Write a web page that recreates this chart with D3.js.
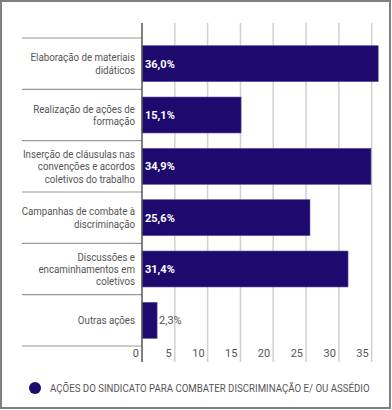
<!DOCTYPE html>
<html><head><meta charset="utf-8">
<script src="https://cdn.jsdelivr.net/npm/d3@7"></script>
<style>body{margin:0;background:#fff}svg{display:block}</style>
</head><body><svg id="c" width="392" height="410"></svg>
<script>
const categories = [
  ["Elaboração de materiais", "didáticos"],
  ["Realização de ações de", "formação"],
  ["Inserção de cláusulas nas", "convenções e acordos", "coletivos do trabalho"],
  ["Campanhas de combate à", "discriminação"],
  ["Discussões e", "encaminhamentos em", "coletivos"],
  ["Outras ações"]
];
const values = [36.0, 15.1, 34.9, 25.6, 31.4, 2.3];
const valueLabels = ["36,0%", "15,1%", "34,9%", "25,6%", "31,4%", "2,3%"];
const ticks = [0, 5, 10, 15, 20, 25, 30, 35];
const seriesName = "AÇÕES DO SINDICATO PARA COMBATER DISCRIMINAÇÃO E/ OU ASSÉDIO";

const svg = d3.select("#c");
const font = "Roboto, 'Noto Sans', sans-serif";
const barColor = "#1e0a6e";
const textColor = "#555";

svg.append("rect").attr("x",1).attr("y",1).attr("width",389).attr("height",407)
  .attr("fill","#fff").attr("stroke","#808080").attr("stroke-width",2);

const x = d3.scaleLinear().domain([0, 36]).range([142, 378.2]);
const y = d3.scaleBand().domain(d3.range(categories.length)).range([38, 346]).paddingInner(0.3).paddingOuter(0.15);
const gTop = 23, gBottom = 362;

// gridlines
svg.append("g").selectAll("line").data(ticks.filter(t=>t>0)).join("line")
  .attr("x1", d=>x(d)).attr("x2", d=>x(d)).attr("y1", gTop).attr("y2", gBottom)
  .attr("stroke","#d0d0d0").attr("stroke-width",1.5);

// tick labels
svg.append("g").selectAll("text").data(ticks).join("text")
  .attr("x", d=>x(d)-3).attr("y", 357).attr("text-anchor","end")
  .attr("font-family",font).attr("font-size",11).attr("fill",textColor).text(d=>d);

// category separators
const seps = d3.range(categories.length+1).map(i => 38 + i*(308/categories.length));
svg.append("g").selectAll("line").data(seps).join("line")
  .attr("x1",22).attr("x2",142).attr("y1",d=>d).attr("y2",d=>d)
  .attr("stroke","#999").attr("stroke-width",1.2);

// bars
svg.append("g").selectAll("rect").data(values).join("rect")
  .attr("x", x(0)).attr("y",(d,i)=>y(i)).attr("width", d=>x(d)-x(0)).attr("height", y.bandwidth())
  .attr("fill", barColor).attr("stroke","#5a4aa0").attr("stroke-width",0.6);

// axis line
svg.append("line").attr("x1",142).attr("x2",142).attr("y1",gTop).attr("y2",gBottom)
  .attr("stroke","#555").attr("stroke-width",1.5);

// value labels
svg.append("g").selectAll("text").data(values).join("text")
  .attr("x",(d,i)=> (x(d)-x(0) > 30) ? x(0)+3 : x(d)+2)
  .attr("y",(d,i)=>y(i)+y.bandwidth()/2+4)
  .attr("font-family",font).attr("font-size",11)
  .attr("font-weight",(d)=> (x(d)-x(0) > 30) ? "bold" : "normal")
  .attr("fill",(d)=> (x(d)-x(0) > 30) ? "#fff" : textColor)
  .text((d,i)=>valueLabels[i]);

// category labels
const catG = svg.append("g").attr("transform","translate(135,0) scale(0.885,1)");
categories.forEach((lines,i)=>{
  const cy = y(i)+y.bandwidth()/2;
  const lh = 12.4;
  const t = catG.append("text").attr("text-anchor","end").attr("font-family",font)
    .attr("font-size",11).attr("fill",textColor);
  lines.forEach((l,j)=>{
    t.append("tspan").attr("x",0).attr("y", cy + (j-(lines.length-1)/2)*lh + 4).text(l);
  });
});

// legend
svg.append("circle").attr("cx",35).attr("cy",388).attr("r",6).attr("fill",barColor);
const legG = svg.append("g");
const legT = legG.append("text").attr("x",0).attr("y",0).attr("font-family",font).attr("font-size",11)
  .attr("fill",textColor).text(seriesName);
const natW = legT.node().getComputedTextLength();
legG.attr("transform", `translate(50,392) scale(${320/natW},1)`);
</script></body></html>
